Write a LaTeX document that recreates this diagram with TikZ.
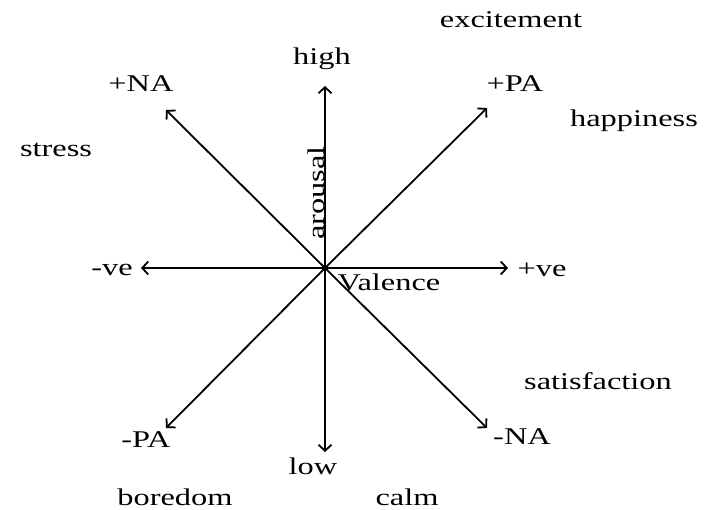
\documentclass[tikz,border=0pt]{standalone}
\usepackage{fontspec}
\setmainfont{Liberation Serif}[FakeStretch=1.35]
\usetikzlibrary{arrows.meta}
\begin{document}
\begin{tikzpicture}[x=1pt,y=-1pt,
  axis/.style={line width=1.8pt,-{Straight Barb[length=6pt,width=13pt,line width=1.8pt]}},
  lbl/.style={font=\fontsize{24}{26}\selectfont,inner sep=0pt}]
\useasboundingbox (0,0) rectangle (710,510);
\coordinate (o) at (325,268);
\coordinate (up) at (325,86);
\coordinate (dn) at (325,452);
\coordinate (lt) at (141,268);
\coordinate (rt) at (508,268);
\coordinate (ul) at (166,110);
\coordinate (ur) at (487,108);
\coordinate (dl) at (166,428);
\coordinate (dr) at (487,428);
\foreach \e in {up,dn,lt,rt,ul,ur,dl,dr} \draw[axis] (o) -- (\e);
\fill (o) circle (2.8pt);
\node[lbl] (excitement) at (511,20) {excitement};
\node[lbl] (high) at (322,59) {high};
\node[lbl] (pna) at (141,84) {+NA};
\node[lbl] (ppa) at (515,84) {+PA};
\node[lbl] (happiness) at (634,121) {happiness};
\node[lbl] (stress) at (56,150) {stress};
\node[lbl,rotate=90] (arousal) at (316,193) {arousal};
\node[lbl] (mve) at (112,270) {-ve};
\node[lbl] (pve) at (542,270) {+ve};
\node[lbl] (valence) at (389,282) {Valence};
\node[lbl] (satisfaction) at (598,381) {satisfaction};
\node[lbl] (mpa) at (146,440) {-PA};
\node[lbl] (mna) at (522,437) {-NA};
\node[lbl] (low) at (313,466) {low};
\node[lbl] (boredom) at (175,497) {boredom};
\node[lbl] (calm) at (407,497) {calm};
\end{tikzpicture}
\end{document}
